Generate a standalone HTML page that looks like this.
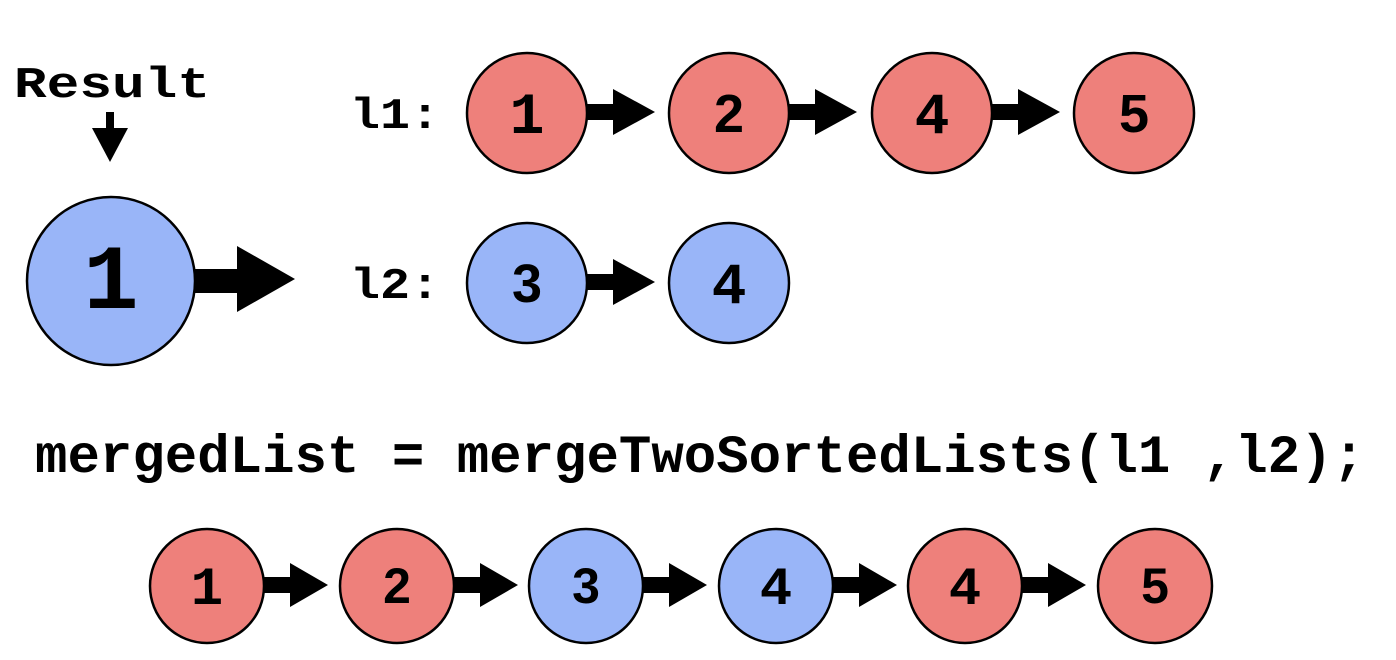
<!DOCTYPE html>
<html><head><meta charset="utf-8"><style>
html,body{margin:0;padding:0;background:#fff;}
svg{display:block}
text{font-family:"Liberation Mono",monospace;font-weight:bold;fill:#000}
.r{fill:#ee807b;stroke:#000;stroke-width:2.5}
.b{fill:#99b5f8;stroke:#000;stroke-width:2.5}
.n{font-family:"Liberation Sans",sans-serif;font-size:54px;text-anchor:middle}
.m{font-size:58px;text-anchor:middle}
.nb{font-family:"Liberation Sans",sans-serif;font-size:50px;text-anchor:middle}
.mb{font-size:54px;text-anchor:middle}
</style></head><body>
<svg width="1396" height="660" viewBox="0 0 1396 660">
<defs>
<g id="arT"><rect x="0" y="-8" width="30" height="16"/><polygon points="26,-23 68,0 26,23"/></g>
<g id="arB"><rect x="0" y="-8" width="30" height="16"/><polygon points="26,-22 64,0 26,22"/></g>
</defs>
<text x="14" y="97" font-size="44" textLength="196" lengthAdjust="spacingAndGlyphs">Result</text>
<rect x="106" y="112" width="8" height="20"/>
<polygon points="92,128 128,128 110,162"/>
<circle class="b" cx="111" cy="281" r="84"/>
<text x="111" y="308" font-size="92" text-anchor="middle">1</text>
<rect x="195" y="269" width="46" height="24"/>
<polygon points="237,246 295,279 237,312"/>

<text x="350" y="128" font-size="44" textLength="90" lengthAdjust="spacingAndGlyphs">l1:</text>
<text x="350" y="298" font-size="44" textLength="90" lengthAdjust="spacingAndGlyphs">l2:</text>

<circle class="r" cx="527" cy="113" r="60"/><text class="m" x="527" y="133">1</text>
<circle class="r" cx="729" cy="113" r="60"/><text class="n" x="729" y="132">2</text>
<circle class="r" cx="932" cy="113" r="60"/><text class="m" x="932" y="133">4</text>
<circle class="r" cx="1134" cy="113" r="60"/><text class="n" x="1134" y="132">5</text>
<use href="#arT" x="587" y="112"/><use href="#arT" x="789" y="112"/><use href="#arT" x="992" y="112"/>

<circle class="b" cx="527" cy="283" r="60"/><text class="n" x="527" y="302">3</text>
<circle class="b" cx="729" cy="283" r="60"/><text class="m" x="729" y="303">4</text>
<use href="#arT" x="587" y="282"/>

<text x="35" y="472" font-size="54" textLength="1330" lengthAdjust="spacingAndGlyphs">mergedList = mergeTwoSortedLists(l1 ,l2);</text>

<circle class="r" cx="207" cy="586" r="57"/><text class="mb" x="207" y="604">1</text>
<circle class="r" cx="397" cy="586" r="57"/><text class="nb" x="397" y="603">2</text>
<circle class="b" cx="586" cy="586" r="57"/><text class="nb" x="586" y="603">3</text>
<circle class="b" cx="776" cy="586" r="57"/><text class="mb" x="776" y="604">4</text>
<circle class="r" cx="965" cy="586" r="57"/><text class="mb" x="965" y="604">4</text>
<circle class="r" cx="1155" cy="586" r="57"/><text class="nb" x="1155" y="603">5</text>
<use href="#arB" x="264" y="585"/>
<use href="#arB" x="454" y="585"/>
<use href="#arB" x="643" y="585"/>
<use href="#arB" x="833" y="585"/>
<use href="#arB" x="1022" y="585"/>
</svg>
</body></html>
